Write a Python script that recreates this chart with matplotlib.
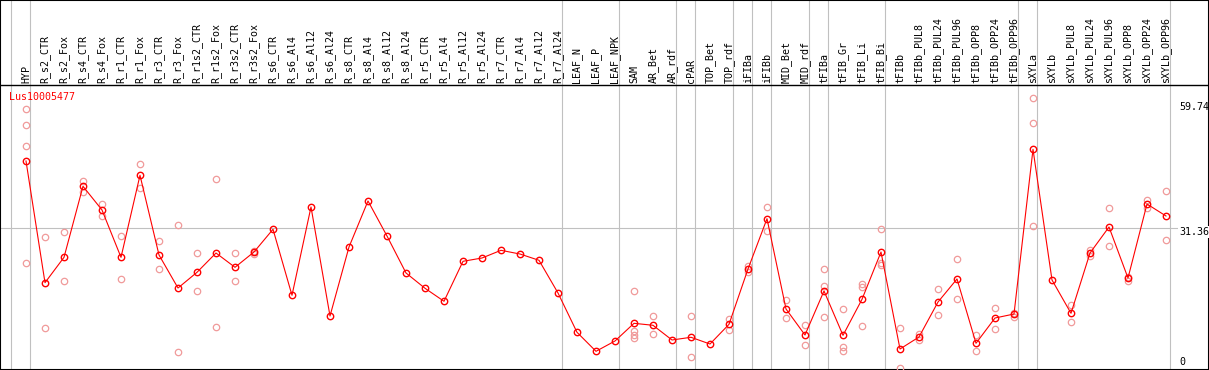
import matplotlib
matplotlib.use("Agg")
import matplotlib.pyplot as plt

gene = "Lus10005477"

samples = ["HYP", "R_s2_CTR", "R_s2_Fox", "R_s4_CTR", "R_s4_Fox", "R_r1_CTR", "R_r1_Fox",
           "R_r3_CTR", "R_r3_Fox", "R_r1s2_CTR", "R_r1s2_Fox", "R_r3s2_CTR", "R_r3s2_Fox",
           "R_s6_CTR", "R_s6_Al4", "R_s6_Al12", "R_s6_Al24", "R_s8_CTR", "R_s8_Al4",
           "R_s8_Al12", "R_s8_Al24", "R_r5_CTR", "R_r5_Al4", "R_r5_Al12", "R_r5_Al24",
           "R_r7_CTR", "R_r7_Al4", "R_r7_Al12", "R_r7_Al24", "LEAF_N", "LEAF_P", "LEAF_NPK",
           "SAM", "AR_Bet", "AR_rdf", "cPAR", "TOP_Bet", "TOP_rdf", "iFIBa", "iFIBb",
           "MID_Bet", "MID_rdf", "tFIBa", "tFIB_Gr", "tFIB_Li", "tFIB_Bi", "tFIBb",
           "tFIBb_PUL8", "tFIBb_PUL24", "tFIBb_PUL96", "tFIBb_OPP8", "tFIBb_OPP24",
           "tFIBb_OPP96", "sXYLa", "sXYLb", "sXYLb_PUL8", "sXYLb_PUL24", "sXYLb_PUL96",
           "sXYLb_OPP8", "sXYLb_OPP24", "sXYLb_OPP96"]

means = [46.07, 19.50, 25.04, 40.55, 35.37, 25.04, 42.95, 25.55, 18.34, 21.77, 25.98,
         22.86, 26.20, 31.16, 16.75, 36.03, 12.23, 27.29, 37.34, 29.69, 21.62, 18.28,
         15.44, 24.17, 24.89, 26.57, 25.76, 24.39, 17.25, 8.67, 4.52, 6.77, 10.63, 10.20,
         6.99, 7.58, 6.11, 10.41, 22.49, 33.47, 13.76, 8.08, 17.69, 8.01, 15.87, 26.20,
         5.02, 7.64, 15.28, 20.31, 6.27, 11.79, 12.66, 48.62, 20.09, 12.82, 25.98, 31.66,
         20.52, 36.68, 34.06]

replicates = [
    [57.42, 53.87, 49.34, 23.80],   # HYP
    [29.41, 9.61], [30.50, 19.87], [41.77, 39.30], [36.68, 34.00],
    [29.63, 20.24], [45.35, 40.24], [28.54, 22.49], [32.03, 4.37],
    [25.98, 17.69], [42.14, 9.76], [25.98, 19.87], [26.48, 25.83],
    [], [], [], [], [], [], [], [], [], [], [], [], [], [], [], [],   # R_s6 .. R_r7
    [], [], [],                       # LEAF
    [17.62, 9.02, 8.14, 7.36],        # SAM
    [12.16, 8.23], [], [12.16, 3.28], [], [11.64, 9.17],
    [23.14, 21.90], [36.03, 30.72], [15.72, 11.72], [10.26, 5.83],
    [22.49, 18.84, 11.94], [13.76, 5.39, 4.52], [19.15, 18.49, 9.98],
    [31.16, 23.80, 23.36], [9.61, 0.87],
    [8.23, 6.99], [18.06, 12.45], [24.61, 15.87], [8.08, 4.52], [13.91, 9.39],
    [12.88, 12.07],
    [59.76, 54.30, 31.81],            # sXYLa
    [], [14.63, 10.85], [26.57, 25.39], [35.74, 27.51], [20.81, 19.80],
    [37.49, 35.81], [39.45, 28.76],
]

# group separators sit just after these sample indices
group_ends = [-1, 0, 28, 31, 34, 35, 37, 38, 39, 41, 42, 45, 52, 53, 60]

y_max_label = "59.74"
y_mid = 31.36

# pixel geometry
W, H = 1209, 370
x0, step = 26, 19        # px of first sample, px between samples
y0, scale = 372, 4.58    # px of value 0, px per unit

def px_y(p):
    return (y0 - p) / scale

fig = plt.figure(figsize=(W / 100, H / 100), dpi=100)
ax = fig.add_axes([0, 0, 1, 1])
ax.set_xlim(-x0 / step, (W - x0) / step)
ax.set_ylim(px_y(H), px_y(0))
ax.set_xticks([])
ax.set_yticks([])
for s in ax.spines.values():
    s.set_linewidth(1.5)
    s.set_color("black")

grey = "#c0c0c0"
for g in group_ends:
    ax.axvline(g + 4 / step, color=grey, lw=0.8, zorder=1)
ax.plot([ax.get_xlim()[0], (1177 - x0) / step], [y_mid, y_mid], color=grey, lw=0.8, zorder=1)
ax.axhline(px_y(85), color="black", lw=1.0, zorder=2)

xs = list(range(len(samples)))

rx, ry = [], []
for i, r in enumerate(replicates):
    for v in r:
        rx.append(i)
        ry.append(v)
ax.plot(rx, ry, "o", ms=4.6, mfc="none", mec="#f09a9a", mew=0.9, zorder=3)
ax.plot(xs, means, "-", color="red", lw=0.8, zorder=4)
ax.plot(xs, means, "o", ms=4.6, mfc="none", mec="red", mew=1.0, zorder=5)

mono = "DejaVu Sans Mono"
for i, name in enumerate(samples):
    ax.text(i, px_y(83), name, rotation=90, ha="center", va="bottom",
            family=mono, fontsize=7.2, color="black")

ax.text(-17 / step, px_y(97), gene, ha="left", va="center",
        family=mono, fontsize=7.2, color="red")

xr = (1179 - x0) / step
ax.text(xr, px_y(107), y_max_label, ha="left", va="center", family=mono, fontsize=7.2)
ax.text(xr, px_y(232), f"{y_mid:.2f}", ha="left", va="center", family=mono, fontsize=7.2,
        bbox=dict(facecolor="white", edgecolor="none", pad=0.5))
ax.text(xr, px_y(362), "0", ha="left", va="center", family=mono, fontsize=7.2)

fig.savefig("out.png", dpi=100)
